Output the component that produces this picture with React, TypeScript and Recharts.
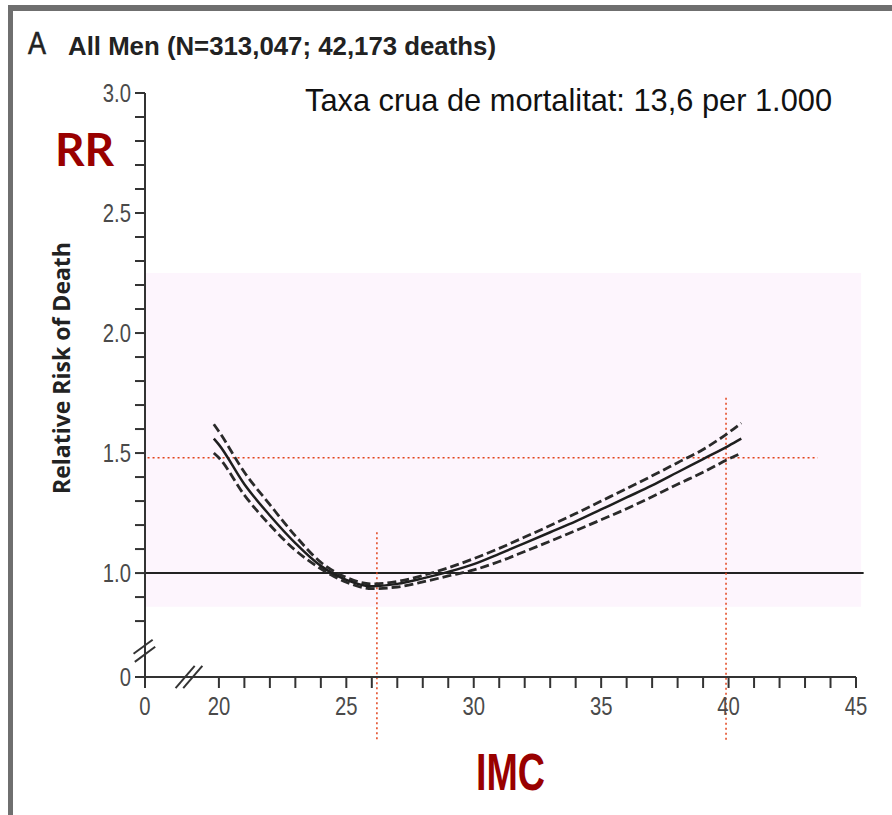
import {
  ComposedChart,
  Line,
  XAxis,
  YAxis,
  ReferenceArea,
  ReferenceLine,
} from "recharts";

// BMI (IMC) values where the curves were read
const bmi = [
  19.8, 20, 21, 22, 23, 24, 25, 26, 27, 28, 29, 30, 31, 32, 33, 34, 35, 36, 37,
  38, 39, 40, 40.5,
];

// relative risk of death, point estimate
const rrMid = [
  1.56, 1.535, 1.37, 1.24, 1.125, 1.03, 0.972, 0.945, 0.955, 0.978, 1.005,
  1.037, 1.08, 1.125, 1.17, 1.215, 1.265, 1.315, 1.365, 1.42, 1.475, 1.53,
  1.56,
];

// 95% CI upper bound
const rrUpper = [
  1.62, 1.59, 1.42, 1.285, 1.155, 1.045, 0.982, 0.955, 0.965, 0.99, 1.022,
  1.06, 1.103, 1.15, 1.198, 1.248, 1.3, 1.352, 1.405, 1.46, 1.515, 1.585,
  1.625,
];

// 95% CI lower bound
const rrLower = [
  1.5, 1.48, 1.325, 1.2, 1.095, 1.018, 0.962, 0.935, 0.942, 0.963, 0.988,
  1.013, 1.048, 1.09, 1.133, 1.177, 1.222, 1.268, 1.318, 1.37, 1.42, 1.475,
  1.5,
];

// axes are broken: the "0" tick sits at a stand-in position
const X_ZERO = 17.1;
const Y_ZERO = 0.567;

const xTicks = [
  X_ZERO, 20, 21, 22, 23, 24, 25, 26, 27, 28, 29, 30, 31, 32, 33, 34, 35, 36,
  37, 38, 39, 40, 41, 42, 43, 44, 45,
];
const xLabels = [20, 25, 30, 35, 40, 45];

const yTicks = [
  Y_ZERO, 0.8, 0.9, 1.0, 1.1, 1.2, 1.3, 1.4, 1.5, 1.6, 1.7, 1.8, 1.9, 2.0, 2.1,
  2.2, 2.3, 2.4, 2.5, 2.6, 2.7, 2.8, 2.9, 3.0,
];
const yLabels = [1.0, 1.5, 2.0, 2.5, 3.0];

const data = bmi.map((b, i) => ({
  bmi: b,
  mid: rrMid[i],
  upper: rrUpper[i],
  lower: rrLower[i],
}));

const SANS = "'Liberation Sans', Arial, sans-serif";
const RED = "#e2431b";
const DARKRED = "#990000";
const TICK_FONT = 26;

const fmtX = (v: number) =>
  Math.abs(v - X_ZERO) < 0.01 ? "0" : xLabels.includes(v) ? String(v) : "";
const fmtY = (v: number) =>
  Math.abs(v - Y_ZERO) < 0.01
    ? "0"
    : yLabels.some((l) => Math.abs(l - v) < 0.001)
    ? v.toFixed(1)
    : "";

// squeeze the labels a bit so they look like the condensed original
const narrowWidth = (s: string) => {
  let w = 0;
  for (const c of s) w += c === "." ? 0.278 : 0.556;
  return w * TICK_FONT * 0.78;
};

function XTick(props: any) {
  const { x, y, payload } = props;
  const label = fmtX(payload.value);
  if (!label) return null;
  return (
    <text
      x={x}
      y={y}
      dy="0.72em"
      textAnchor="middle"
      fontSize={TICK_FONT}
      fontFamily={SANS}
      fill="#4a4a4a"
      textLength={narrowWidth(label)}
      lengthAdjust="spacingAndGlyphs"
    >
      {label}
    </text>
  );
}

function YTick(props: any) {
  const { x, y, payload } = props;
  const label = fmtY(payload.value);
  if (!label) return null;
  return (
    <text
      x={x}
      y={y}
      dy="0.36em"
      textAnchor="end"
      fontSize={TICK_FONT}
      fontFamily={SANS}
      fill="#4a4a4a"
      textLength={narrowWidth(label)}
      lengthAdjust="spacingAndGlyphs"
    >
      {label}
    </text>
  );
}

export default function App() {
  return (
    <div
      style={{
        position: "absolute",
        left: 0,
        top: 0,
        width: 892,
        height: 815,
        background: "#fff",
        overflow: "hidden",
      }}
    >
      {/* frame */}
      <div
        style={{
          position: "absolute",
          left: 8,
          top: 5,
          width: 884,
          height: 810,
          borderLeft: "5px solid #6f6f6f",
          borderTop: "6px solid #6f6f6f",
          boxSizing: "border-box",
        }}
      />

      <div style={{ position: "absolute", left: 0, top: 0 }}>
        <ComposedChart
          width={892}
          height={815}
          data={data}
          margin={{ top: 93, right: 36, bottom: 88, left: 85 }}
        >
          <ReferenceArea
            x1={X_ZERO}
            x2={45.2}
            y1={0.86}
            y2={2.25}
            fill="#fdf5fd"
            fillOpacity={1}
            stroke="none"
            ifOverflow="visible"
          />

          <XAxis
            type="number"
            dataKey="bmi"
            domain={[X_ZERO, 45]}
            ticks={xTicks}
            interval={0}
            tickSize={11}
            tickMargin={8}
            height={50}
            allowDataOverflow
            stroke="#333"
            strokeWidth={2}
            tick={<XTick />}
          />

          <YAxis
            type="number"
            domain={[Y_ZERO, 3.0]}
            ticks={yTicks}
            interval={0}
            tickSize={10}
            tickMargin={4}
            width={60}
            allowDataOverflow
            stroke="#333"
            strokeWidth={2}
            tick={<YTick />}
          />

          {/* RR = 1 line */}
          <ReferenceLine
            segment={[
              { x: X_ZERO, y: 1 },
              { x: 45.3, y: 1 },
            ]}
            stroke="#222"
            strokeWidth={2}
            ifOverflow="visible"
          />

          {/* red dotted guides */}
          <ReferenceLine
            segment={[
              { x: X_ZERO + 0.1, y: 1.48 },
              { x: 43.5, y: 1.48 },
            ]}
            stroke={RED}
            strokeWidth={1.5}
            strokeDasharray="2 3"
            ifOverflow="visible"
          />
          <ReferenceLine
            segment={[
              { x: 26.2, y: 1.17 },
              { x: 26.2, y: 0.296 },
            ]}
            stroke={RED}
            strokeWidth={1.5}
            strokeDasharray="2 3"
            ifOverflow="visible"
          />
          <ReferenceLine
            segment={[
              { x: 39.9, y: 1.73 },
              { x: 39.9, y: 0.296 },
            ]}
            stroke={RED}
            strokeWidth={1.5}
            strokeDasharray="2 3"
            ifOverflow="visible"
          />

          {/* axis break marks */}
          <ReferenceLine
            segment={[
              { x: 16.65, y: 0.664 },
              { x: 17.4, y: 0.722 },
            ]}
            stroke="#333"
            strokeWidth={2}
            ifOverflow="visible"
          />
          <ReferenceLine
            segment={[
              { x: 16.7, y: 0.63 },
              { x: 17.5, y: 0.693 },
            ]}
            stroke="#333"
            strokeWidth={2}
            ifOverflow="visible"
          />
          <ReferenceLine
            segment={[
              { x: 18.3, y: 0.521 },
              { x: 19.05, y: 0.613 },
            ]}
            stroke="#333"
            strokeWidth={2}
            ifOverflow="visible"
          />
          <ReferenceLine
            segment={[
              { x: 18.6, y: 0.521 },
              { x: 19.35, y: 0.613 },
            ]}
            stroke="#333"
            strokeWidth={2}
            ifOverflow="visible"
          />

          <Line
            type="monotone"
            dataKey="upper"
            stroke="#2a2a2a"
            strokeWidth={2.8}
            strokeDasharray="9 4"
            dot={false}
            isAnimationActive={false}
          />
          <Line
            type="monotone"
            dataKey="lower"
            stroke="#2a2a2a"
            strokeWidth={2.8}
            strokeDasharray="9 4"
            dot={false}
            isAnimationActive={false}
          />
          <Line
            type="monotone"
            dataKey="mid"
            stroke="#1e1e1e"
            strokeWidth={2.5}
            dot={false}
            isAnimationActive={false}
          />
        </ComposedChart>
      </div>

      {/* texts */}
      <svg
        width={892}
        height={815}
        style={{ position: "absolute", left: 0, top: 0, pointerEvents: "none" }}
      >
        <text
          x={28}
          y={54}
          fontSize={31}
          fontFamily={SANS}
          fill="#222"
          stroke="#222"
          strokeWidth={0.6}
          textLength={18}
          lengthAdjust="spacingAndGlyphs"
        >
          A
        </text>
        <text
          x={68}
          y={55}
          fontSize={26}
          fontWeight={700}
          fontFamily={SANS}
          fill="#222"
          textLength={428}
          lengthAdjust="spacingAndGlyphs"
        >
          All Men (N=313,047; 42,173 deaths)
        </text>
        <text
          x={305}
          y={111}
          fontSize={32}
          fontFamily={SANS}
          fill="#111"
          textLength={527}
          lengthAdjust="spacingAndGlyphs"
        >
          Taxa crua de mortalitat: 13,6 per 1.000
        </text>
        <text
          x={55}
          y={166}
          fontSize={46}
          fontWeight={700}
          fontFamily="Lato, 'Open Sans', sans-serif"
          fill={DARKRED}
        >
          RR
        </text>
        <text
          x={70}
          y={368}
          transform="rotate(-90 70 368)"
          textAnchor="middle"
          fontSize={23}
          fontWeight={700}
          fontFamily="'Open Sans', 'DejaVu Sans', sans-serif"
          fill="#222"
        >
          Relative Risk of Death
        </text>
        <text
          x={476}
          y={790}
          fontSize={52}
          fontWeight={700}
          fontFamily={SANS}
          fill={DARKRED}
          textLength={69}
          lengthAdjust="spacingAndGlyphs"
        >
          IMC
        </text>
      </svg>
    </div>
  );
}
